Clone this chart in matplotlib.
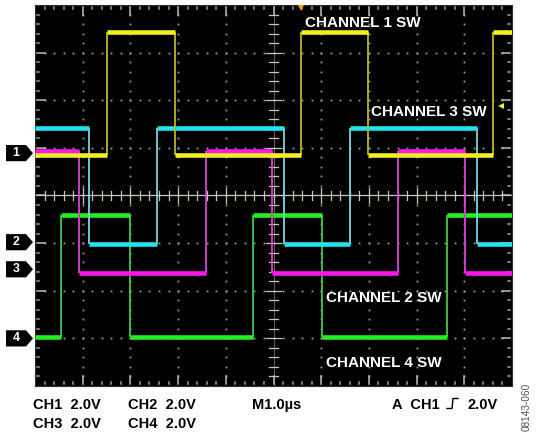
import matplotlib
matplotlib.use('Agg')
import matplotlib.pyplot as plt
import numpy as np
from matplotlib.patches import Polygon
from matplotlib.lines import Line2D
from matplotlib.transforms import blended_transform_factory

plt.rcParams['font.family'] = ['Liberation Sans', 'DejaVu Sans']

# ---- data (time in divisions at 1.0 us/div, level in divisions at 2.0 V/div) ----
ch1_edges = [0, 1.51, 2.93, 5.58, 6.98, 9.60, 10]
ch1_levels = [0.85, 3.43, 0.85, 3.43, 0.85, 3.43]
ch2_edges = [0, 1.13, 2.56, 5.22, 6.60, 9.27, 10]
ch2_levels = [1.42, -1.02, 1.42, -1.02, 1.42, -1.02]
ch3_edges = [0, 0.92, 3.58, 4.97, 7.61, 9.01, 10]
ch3_levels = [0.93, -1.63, 0.93, -1.63, 0.93, -1.63]
ch4_edges = [0, 0.55, 1.99, 4.57, 6.02, 8.64, 10]
ch4_levels = [-2.97, -0.41, -2.97, -0.41, -2.97, -0.41]
ground_ids = ['1', '2', '3', '4']
ground_levels = [0.89, -0.98, -1.55, -3.0]
trigger_time = 5.58
trigger_level = 1.88

labels = ['CHANNEL 1 SW', 'CHANNEL 3 SW', 'CHANNEL 2 SW', 'CHANNEL 4 SW']
label_x = [5.66, 7.04, 6.10, 6.10]
label_y = [3.53, 1.67, -2.23, -3.61]

W, H = 536, 436
fig = plt.figure(figsize=(W / 100, H / 100), dpi=100)
fig.patch.set_facecolor('white')
L, R, T, B = 35, 512, 5, 386
ax = fig.add_axes([L / W, 1 - B / H, (R - L) / W, (B - T) / H])
ax.set_facecolor('black')
ax.set_xlim(0, 10)
ax.set_ylim(-4, 4)
ax.set_xticks([])
ax.set_yticks([])
for s in ax.spines.values():
    s.set_color('#303030')
    s.set_linewidth(0.8)

dot_c = '#9a9a9a'
# dotted graticule
minor = np.round(np.arange(0.2, 10, 0.2), 3)
minor_y = np.round(np.arange(-3.8, 4, 0.2), 3)
for xv in range(1, 10):
    if xv == 5:
        continue
    ax.plot(np.full(len(minor_y), xv), minor_y, ls='none', marker='s', ms=1.3,
            mew=0, color=dot_c, zorder=1)
for yv in range(-3, 4):
    if yv == 0:
        continue
    ax.plot(minor, np.full(len(minor), yv), ls='none', marker='s', ms=1.3,
            mew=0, color=dot_c, zorder=1)

cross_c = '#c8c8b8'
# center crosshair
ax.axhline(0, color=cross_c, lw=0.9, zorder=1)
ax.axvline(5, color='#707068', lw=0.6, zorder=1)
for xv in minor:
    hh = 0.15 if abs(xv - round(xv)) < 1e-6 else 0.09
    ax.plot([xv, xv], [-hh, hh], color=cross_c, lw=0.9, zorder=1)
for yv in minor_y:
    ww = 0.15 if abs(yv - round(yv)) < 1e-6 else 0.09
    ax.plot([5 - ww, 5 + ww], [yv, yv], color=cross_c, lw=0.9, zorder=1)

# border ticks
for xv in minor:
    major = abs(xv - round(xv)) < 1e-6
    hh = 0.17 if major else 0.05
    c = '#c0c0b0' if major else dot_c
    ax.plot([xv, xv], [4 - hh - 0.04, 4 - 0.04], color=c, lw=1.1, zorder=1)
    ax.plot([xv, xv], [-4 + 0.04, -4 + hh + 0.04], color=c, lw=1.1, zorder=1)
for yv in minor_y:
    major = abs(yv - round(yv)) < 1e-6
    ww = 0.17 if major else 0.05
    c = '#c0c0b0' if major else dot_c
    ax.plot([0.04, 0.04 + ww], [yv, yv], color=c, lw=1.1, zorder=1)
    ax.plot([10 - 0.04 - ww, 10 - 0.04], [yv, yv], color=c, lw=1.1, zorder=1)

# traces
traces = [
    (ch4_edges, ch4_levels, '#22f022', '#44c844'),
    (ch3_edges, ch3_levels, '#ff18ee', '#e040d8'),
    (ch2_edges, ch2_levels, '#22e4f0', '#7fd4e0'),
    (ch1_edges, ch1_levels, '#f2f020', '#b8b428'),
]
for i, (e, lv, c, ec) in enumerate(traces):
    e = np.array(e)
    lv = np.array(lv)
    ax.vlines(e[1:-1], lv[:-1], lv[1:], color=ec, lw=1.3, zorder=3 + i)
    ax.hlines(lv, e[:-1], e[1:], color=c, lw=3.3, zorder=3 + i)

# trigger markers
ax.plot([trigger_time], [3.93], marker='v', ms=5, color='#ff9a10', mew=0,
        clip_on=False, zorder=10)
ax.plot([9.76], [trigger_level], marker='<', ms=5, color='#f2f020', mew=0,
        zorder=10)

# channel labels
for t, x, y in zip(labels, label_x, label_y):
    ax.text(x, y, t, color='white', fontsize=11, fontweight='bold',
            ha='left', va='baseline', zorder=12)

# ground markers on the left
btr = blended_transform_factory(fig.transFigure, ax.transData)
h = 0.17
for gid, gy in zip(ground_ids, ground_levels):
    pts = [(6 / W, gy - h), (26 / W, gy - h), (33 / W, gy), (26 / W, gy + h),
           (6 / W, gy + h)]
    fig.add_artist(Polygon(pts, closed=True, fc='black', ec='none',
                           transform=btr))
    fig.text(16 / W, gy, gid, transform=btr, color='white', fontsize=9,
             fontweight='bold', ha='center', va='center')

# bottom readouts
def ftext(x, y, s, **kw):
    fig.text(x / W, 1 - y / H, s, **kw)

kw = dict(color='black', fontsize=10.5, fontweight='bold', ha='left',
          va='baseline')
ftext(33, 409, 'CH1  2.0V', **kw)
ftext(128, 409, 'CH2  2.0V', **kw)
ftext(252, 409, 'M1.0\u00b5s', **kw)
ftext(392, 409, 'A  CH1', **kw)
ftext(468, 409, '2.0V', **kw)
ftext(33, 428.3, 'CH3  2.0V', **kw)
ftext(128, 428.3, 'CH4  2.0V', **kw)
sx = [447, 452, 453, 458]
sy = [408.5, 408.5, 398.5, 398.5]
fig.add_artist(Line2D([v / W for v in sx], [1 - v / H for v in sy],
                      color='black', lw=1.0, transform=fig.transFigure))

ftext(527, 407, '08143-060', color='#505050', fontsize=7.2, rotation=90,
      ha='center', va='center')

fig.savefig('out.png', dpi=100, facecolor='white')
